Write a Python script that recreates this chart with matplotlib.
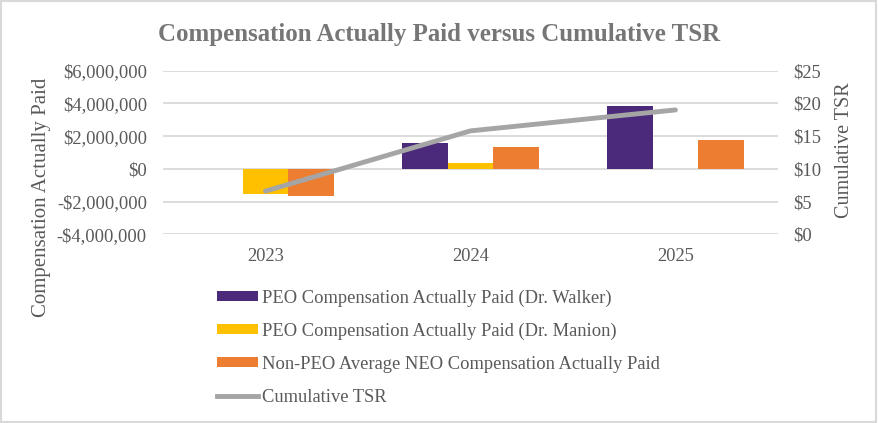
import matplotlib.pyplot as plt
from matplotlib.patches import Patch, Rectangle
from matplotlib.lines import Line2D
from matplotlib.ticker import FuncFormatter
import numpy as np

years = ['2023', '2024', '2025']
walker = [np.nan, 1610000, 3810000]
manion = [-1550000, 350000, np.nan]
non_peo = [-1650000, 1360000, 1770000]
tsr = [6.6, 15.8, 19.0]

c_walker = '#4B2A7B'
c_manion = '#FFC000'
c_non_peo = '#ED7D31'
c_tsr = '#A5A5A5'
c_text = '#595959'

plt.rcParams['font.family'] = ['Liberation Serif', 'DejaVu Serif']

fig = plt.figure(figsize=(8.79, 4.23), dpi=100)
ax = fig.add_axes([0.1854, 0.446, 0.6996, 0.387])
ax2 = ax.twinx()

x = np.arange(len(years))
w = 0.222
ax.bar(x - w, walker, w, color=c_walker, zorder=3)
ax.bar(x, manion, w, color=c_manion, zorder=3)
ax.bar(x + w, non_peo, w, color=c_non_peo, zorder=3)
ax2.plot(x, tsr, color=c_tsr, lw=3.5, solid_capstyle='round', zorder=4)

ax.set_xlim(-0.5, 2.5)
ax.set_ylim(-4000000, 6000000)
ax.set_yticks(np.arange(-4000000, 6000001, 2000000))
ax2.set_ylim(0, 25)
ax2.set_yticks(np.arange(0, 26, 5))

def money(v, pos):
    if v < 0:
        return '-${:,.0f}'.format(-v)
    return '${:,.0f}'.format(v)

ax.yaxis.set_major_formatter(FuncFormatter(money))
ax2.yaxis.set_major_formatter(FuncFormatter(lambda v, p: '${:.0f}'.format(v)))
ax.set_xticks(x)
ax.set_xticklabels(years)

ax.grid(axis='y', color='#D9D9D9', lw=1.3, zorder=0)
for a in (ax, ax2):
    for s in a.spines.values():
        s.set_visible(False)
    a.tick_params(length=0, labelsize=13.3, colors=c_text)
ax.tick_params(axis='y', pad=11.5)
ax.tick_params(axis='x', pad=10)
ax2.tick_params(axis='y', pad=11)

fig.text(0.5, 1 - 34 / 423, 'Compensation Actually Paid versus Cumulative TSR',
         ha='center', va='center', fontsize=17.9, fontweight='bold', color='#767676')
fig.text(42 / 879, 1 - 197 / 423, 'Compensation Actually Paid', rotation=90,
         ha='center', va='center', fontsize=15, color=c_text)
fig.text(845 / 879, 1 - 150 / 423, 'Cumulative TSR', rotation=90,
         ha='center', va='center', fontsize=14.5, color=c_text)

handles = [
    Patch(facecolor=c_walker),
    Patch(facecolor=c_manion),
    Patch(facecolor=c_non_peo),
    Line2D([0], [0], color=c_tsr, lw=3.5),
]
labels = [
    'PEO Compensation Actually Paid (Dr. Walker)',
    'PEO Compensation Actually Paid (Dr. Manion)',
    'Non-PEO Average NEO Compensation Actually Paid',
    'Cumulative TSR',
]
leg = fig.legend(handles, labels, loc='upper left', bbox_to_anchor=(210 / 879, 1 - 282 / 423),
                 frameon=False, fontsize=13.3, handlelength=2.2, handleheight=0.45,
                 handletextpad=0.2, labelspacing=0.86, borderaxespad=0)
for t in leg.get_texts():
    t.set_color(c_text)

fig.add_artist(Rectangle((0.001, 0.002), 0.996, 0.995, transform=fig.transFigure,
                         fill=False, edgecolor='#D9D9D9', lw=1.5))

fig.savefig('out.png', dpi=100)
